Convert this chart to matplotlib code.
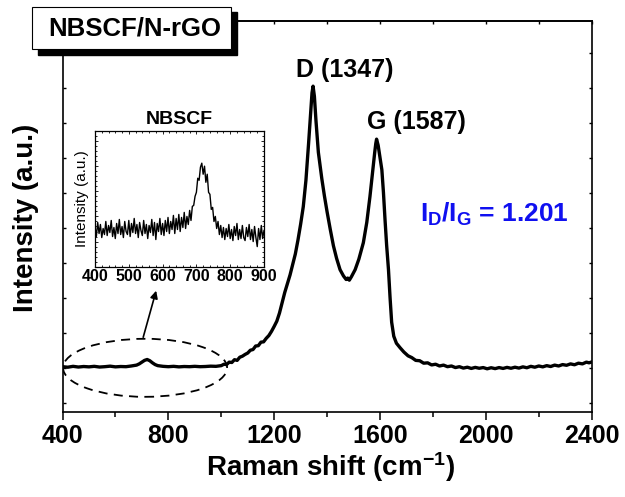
import numpy as np
import matplotlib
matplotlib.use('Agg')
import matplotlib.pyplot as plt
from matplotlib.patches import Ellipse, Rectangle
from matplotlib.ticker import MultipleLocator

plt.rcParams['font.family'] = ['Liberation Sans', 'DejaVu Sans']
plt.rcParams['font.weight'] = 'bold'
plt.rcParams['mathtext.fontset'] = 'custom'
plt.rcParams['mathtext.rm'] = 'Liberation Sans:bold'
plt.rcParams['mathtext.bf'] = 'Liberation Sans:bold'
plt.rcParams['mathtext.it'] = 'Liberation Sans:bold'

# Raman spectrum of NBSCF/N-rGO (wavenumber, intensity)
shift = [400, 420, 440, 460, 480, 500, 520, 540, 560, 580, 600, 620, 640, 660,
         680, 690, 700, 710, 720, 730, 740, 750, 760, 780, 800, 820, 840, 860,
         880, 900, 920, 940, 960, 980,
         1000, 1010, 1020, 1030, 1040, 1050, 1060, 1070, 1080, 1090, 1100, 1110,
         1120, 1130, 1140, 1150, 1160, 1170, 1180, 1190, 1200, 1210, 1220, 1230,
         1240, 1250, 1260, 1270, 1280, 1290, 1300, 1310, 1320, 1330, 1338, 1343,
         1347, 1352, 1358, 1367, 1380, 1390, 1400, 1412, 1424, 1436, 1449, 1462,
         1472, 1478, 1484, 1492, 1506, 1520, 1537, 1550, 1562, 1572, 1580, 1584,
         1587, 1593, 1600, 1607, 1613, 1619, 1625, 1632, 1638, 1644, 1652, 1662,
         1676, 1690, 1706, 1720, 1735, 1750, 1765, 1780, 1795, 1810, 1825, 1840,
         1855, 1870, 1885, 1900, 1915, 1930, 1945, 1960, 1975, 1990, 2005, 2020,
         2035, 2050, 2065, 2080, 2095, 2110, 2125, 2140, 2155, 2170, 2185, 2200,
         2215, 2230, 2245, 2260, 2275, 2290, 2305, 2320, 2335, 2350, 2365, 2380,
         2390, 2400]
intensity = [1030, 1015, 1040, 1020, 1035, 1025, 1040, 1020, 1030, 1045, 1025,
             1035, 1030, 1050, 1075, 1110, 1160, 1210, 1235, 1200, 1140, 1090,
             1060, 1040, 1030, 1040, 1025, 1035, 1030, 1040, 1030, 1035, 1045,
             1040,
             1060, 1100, 1090, 1160, 1150, 1230, 1210, 1300, 1330, 1380, 1420, 1500,
             1520, 1620, 1630, 1730, 1740, 1840, 1920, 2040, 2180, 2330, 2560, 2860,
             3150, 3400, 3650, 3950, 4250, 4650, 5100, 5600, 6350, 7400, 8300, 8850,
             9040, 8750, 8050, 7150, 6400, 5900, 5450, 4950, 4480, 4120, 3800, 3620,
             3520, 3560, 3500, 3600, 3800, 4100, 4570, 5150, 5890, 6600, 7150, 7400,
             7527, 7350, 7000, 6650, 6000, 5220, 4500, 3800, 3000, 2300, 1900, 1700,
             1570, 1450, 1340, 1290, 1210, 1200, 1130, 1140, 1080, 1100, 1050, 1075,
             1030, 1050, 1005, 1030, 990, 1015, 980, 1010, 985, 1005, 970, 1000,
             975, 1005, 980, 1010, 985, 1015, 990, 1025, 1000, 1040, 1015, 1050,
             1025, 1060, 1035, 1075, 1050, 1090, 1070, 1110, 1085, 1130, 1110, 1160,
             1140, 1165]

# bare NBSCF, 400-900 cm-1 in 4 cm-1 steps
nbscf_shift = np.arange(400, 901, 4)
nbscf_int = [400, 300, 440, 330, 420, 290, 380, 320, 450, 310,
             410, 340, 460, 300, 390, 280, 430, 330, 470, 320,
             400, 290, 450, 350, 320, 460, 300, 430, 340, 480,
             330, 420, 290, 440, 360, 310, 460, 330, 420, 280,
             410, 340, 470, 310, 440, 270, 430, 350, 480, 320,
             430, 310, 460, 350, 490, 330, 450, 370, 510, 330,
             480, 370, 520, 350, 490, 390, 540, 380, 500, 420,
             560, 460, 600, 610, 700, 740, 880, 860, 990, 1030,
             920, 1000, 840, 920, 740, 720, 570, 590, 450, 500,
             380, 450, 320, 410, 290, 390, 270, 380, 300, 420,
             280, 370, 260, 400, 310, 430, 270, 370, 280, 410,
             290, 260, 390, 300, 420, 270, 370, 250, 400, 290,
             200, 380, 270, 410, 280, 360]

d_pos, g_pos = 1347, 1587
d_int = intensity[shift.index(d_pos)]
g_int = intensity[shift.index(g_pos)]
ratio = d_int / g_int

fig = plt.figure(figsize=(6.25, 4.97), dpi=100)
ax = fig.add_axes([0.1, 0.172, 0.8467, 0.7857])
ax.plot(shift, intensity, color='black', lw=2.4, zorder=3)
ax.set_xlim(400, 2400)
ax.set_ylim(-250, 10900)

ax.xaxis.set_major_locator(MultipleLocator(400))
ax.xaxis.set_minor_locator(MultipleLocator(200))
ax.yaxis.set_major_locator(MultipleLocator(1000))
ax.tick_params(axis='x', which='major', direction='out', length=6, width=1.1,
               labelsize=18, pad=3, top=False)
ax.tick_params(axis='x', which='minor', direction='out', length=3.8, width=1.1, top=False)
ax.tick_params(axis='y', direction='in', length=2.5, width=1.0, left=True,
               right=True, labelleft=False)
top = ax.secondary_xaxis('top')
top.xaxis.set_major_locator(MultipleLocator(200))
top.tick_params(direction='in', length=2.5, width=1.0, labeltop=False)
for s in list(ax.spines.values()) + list(top.spines.values()):
    s.set_linewidth(1.2)

ax.set_xlabel(r'Raman shift (cm$^{\mathregular{-1}}$)', fontsize=20, fontweight='bold')
ax.xaxis.set_label_coords(0.506, -0.098)
ax.set_ylabel('Intensity (a.u.)', fontsize=20, fontweight='bold')
ax.yaxis.set_label_coords(-0.045, 0.497)

ax.text(1283, 9512, f'D ({d_pos})', fontsize=18, fontweight='bold', va='center')
ax.text(1551, 8027, f'G ({g_pos})', fontsize=18, fontweight='bold', va='center')
ax.text(1752, 5170, r'$\mathbf{I_D}$/$\mathbf{I_G}$' + f' = {ratio:.3f}',
        fontsize=19, fontweight='bold', color='#1010f0', va='baseline')

# dashed ring round the weak NBSCF band, arrow to the inset
ax.add_patch(Ellipse((712, 998), 620, 1657, fill=False, ls=(0, (5, 3.5)),
                     lw=1.3, color='black', zorder=4))
ax.annotate('', xy=(754, 3200), xytext=(705, 1870),
            arrowprops=dict(arrowstyle='-|>', lw=1.2, color='black',
                            mutation_scale=11, shrinkA=0, shrinkB=0))

# inset
ins = fig.add_axes([0.152, 0.4634, 0.2704, 0.2730])
ins.plot(nbscf_shift, nbscf_int, color='black', lw=1.0)
ins.set_xlim(400, 900)
ins.set_ylim(0, 1350)
ins.xaxis.set_major_locator(MultipleLocator(100))
ins.xaxis.set_minor_locator(MultipleLocator(20))
ins.yaxis.set_major_locator(MultipleLocator(250))
ins.yaxis.set_minor_locator(MultipleLocator(50))
ins.tick_params(which='both', direction='in', top=True, right=True, width=0.6,
                labelleft=False, labelsize=11.5, pad=2)
ins.tick_params(which='major', length=2.5)
ins.tick_params(which='minor', length=1.3)
for s in ins.spines.values():
    s.set_linewidth(0.9)
ins.set_title('NBSCF', fontsize=14, fontweight='bold', pad=5)
ins.set_ylabel('Intensity (a.u.)', fontsize=11, fontweight='normal', labelpad=4)

# sample label with drop shadow
fig.add_artist(Rectangle((38 / 625, 1 - 55 / 497), 199 / 625, 43 / 497,
                         transform=fig.transFigure, color='black', zorder=5))
fig.add_artist(Rectangle((32 / 625, 1 - 49 / 497), 199 / 625, 42 / 497,
                         transform=fig.transFigure, facecolor='white',
                         edgecolor='black', lw=0.8, zorder=6))
fig.text(135 / 625, 1 - 28 / 497, 'NBSCF/N-rGO', fontsize=18.5, fontweight='bold',
         ha='center', va='center', zorder=7)

fig.savefig('out.png', dpi=100)
